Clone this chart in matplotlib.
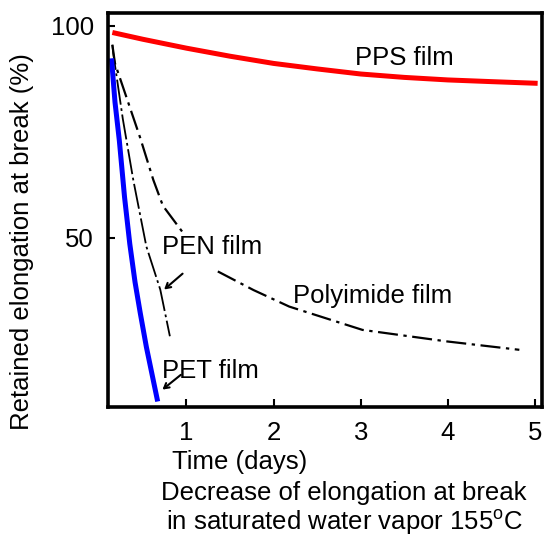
import numpy as np
import matplotlib
matplotlib.use('Agg')
import matplotlib.pyplot as plt

plt.rcParams['font.family'] = ['Liberation Sans', 'DejaVu Sans']
plt.rcParams['mathtext.fontset'] = 'custom'
plt.rcParams['mathtext.rm'] = 'Liberation Sans'

# retained elongation at break (%) vs time (days)
pps_x = [0.15, 0.5, 1.0, 1.5, 2.0, 2.5, 3.0, 3.5, 4.0, 4.5, 5.03]
pps_y = [98.4, 96.8, 94.7, 92.8, 91.1, 89.8, 88.6, 87.8, 87.2, 86.8, 86.4]

pet_x = [0.14, 0.18, 0.23, 0.29, 0.35, 0.41, 0.47, 0.54, 0.67]
pet_y = [92.3, 82.0, 72.9, 59.5, 48.5, 39.5, 32.2, 24.2, 11.3]

pen_x = [0.15, 0.16, 0.27, 0.39, 0.54, 0.70, 0.81]
pen_y = [95.5, 93.5, 78.0, 63.6, 47.9, 37.7, 26.7]

# gap where the PEN label sits
pi_x = [0.15, 0.18, 0.47, 0.62, 0.73, 0.98, np.nan, 1.36, 1.77, 2.18, 2.76, 3.02, 3.98, 4.82]
pi_y = [95.5, 91.1, 73.5, 63.6, 57.5, 50.6, np.nan, 42.0, 37.6, 33.7, 29.9, 28.2, 25.5, 23.5]

x_ticks = [1, 2, 3, 4, 5]
y_ticks = [50, 100]

fs = 18.5

fig = plt.figure(figsize=(5.48, 5.37), dpi=100)
ax = fig.add_axes([108/548, 130/537, 434/548, 394/537])

ax.plot(pps_x, pps_y, color='#ff0000', lw=3.6, solid_capstyle='butt')
ax.plot(pen_x, pen_y, color='black', lw=1.3, dashes=(14, 2, 1.5, 2))
ax.plot(pi_x, pi_y, color='black', lw=1.6, dashes=(9, 2.5, 1.5, 2.5))
ax.plot(pet_x, pet_y, color='#0000ff', lw=3.6, solid_capstyle='butt')

ax.text(3.50, 90.7, 'PPS film', fontsize=fs, ha='center', va='baseline')
ax.text(1.29, 46.2, 'PEN film', fontsize=fs, ha='center', va='baseline')
ax.text(3.14, 34.6, 'Polyimide film', fontsize=fs, ha='center', va='baseline')
ax.text(1.28, 16.9, 'PET film', fontsize=fs, ha='center', va='baseline')

arrow = dict(arrowstyle='->,head_length=0.35,head_width=0.2', lw=1.5, color='black')
ax.annotate('', xy=(0.72, 37.3), xytext=(0.98, 41.9), arrowprops=arrow)
ax.annotate('', xy=(0.70, 13.7), xytext=(0.96, 18.0), arrowprops=arrow)

ax.set_xlim(0.1, 5.08)
ax.set_ylim(10, 103)
ax.set_xticks(x_ticks)
ax.set_yticks(y_ticks)
ax.tick_params(axis='both', direction='in', labelsize=fs, width=1.5)
ax.tick_params(axis='x', length=6, pad=10)
ax.tick_params(axis='y', length=5, pad=10)

for side in ['left', 'bottom', 'top', 'right']:
    ax.spines[side].set_linewidth(2.6)

fig.text(22/548, 1 - 242/537, 'Retained elongation at break (%)', fontsize=fs,
         rotation=90, ha='center', va='center')
fig.text(240/548, 1 - 462/537, 'Time (days)', fontsize=fs, ha='center', va='center')
fig.text(344/548, 1 - 493/537, 'Decrease of elongation at break', fontsize=fs,
         ha='center', va='center')
fig.text(344/548, 1 - 522/537, r'in saturated water vapor 155$^{\rm o}$C', fontsize=fs,
         ha='center', va='center')

fig.savefig('out.png', dpi=100)
